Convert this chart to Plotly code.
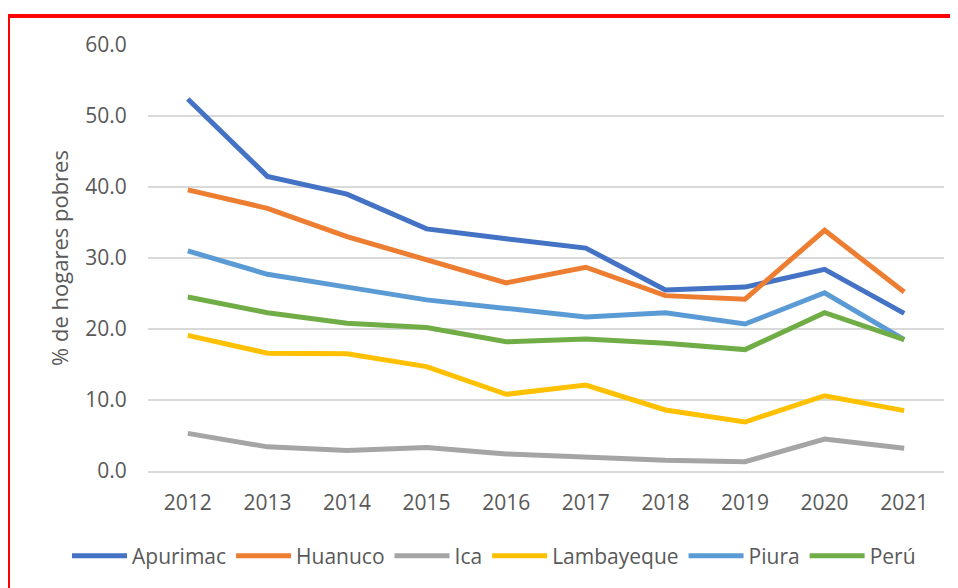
import plotly.graph_objects as go

years = ["2012", "2013", "2014", "2015", "2016", "2017", "2018", "2019", "2020", "2021"]
apurimac = [52.4, 41.5, 39.0, 34.1, 32.7, 31.4, 25.5, 25.9, 28.4, 22.2]
huanuco = [39.6, 37.0, 33.0, 29.7, 26.5, 28.7, 24.7, 24.2, 33.9, 25.2]
ica = [5.3, 3.4, 2.9, 3.3, 2.4, 1.9, 1.5, 1.3, 4.5, 3.2]
lambayeque = [19.1, 16.6, 16.5, 14.7, 10.8, 12.1, 8.6, 6.9, 10.6, 8.5]
piura = [31.0, 27.7, 25.9, 24.1, 22.9, 21.7, 22.3, 20.7, 25.1, 18.5]
peru = [24.5, 22.3, 20.8, 20.2, 18.2, 18.6, 18.0, 17.1, 22.3, 18.5]

series = [
    ("Apurimac", apurimac, "#4472C4"),
    ("Huanuco", huanuco, "#ED7D31"),
    ("Ica", ica, "#A5A5A5"),
    ("Lambayeque", lambayeque, "#FFC000"),
    ("Piura", piura, "#5B9BD5"),
    ("Perú", peru, "#70AD47"),
]

FONT = "Open Sans"
GREY = "#595959"

fig = go.Figure()
for name, vals, col in series:
    fig.add_trace(go.Scatter(
        x=years, y=vals, name=name, mode="lines",
        line=dict(color=col, width=5),
    ))

# page has an 8px body margin; figure coords = screen coords - 8
OFF = 8
W, H = 958 - OFF, 588 - OFF
L, R, T, B = 148 - OFF, 944 - OFF, 45 - OFF, 471 - OFF
def px(x):
    return (x - OFF - L) / (R - L)
def py(y):
    return (B - (y - OFF)) / (B - T)

fig.update_layout(
    width=W, height=H,
    margin=dict(l=L, r=W - R, t=T, b=H - B),
    paper_bgcolor="white", plot_bgcolor="white",
    font=dict(family=FONT, color=GREY, size=21),
    showlegend=True,
    legend=dict(
        orientation="h", x=px(67), y=py(556), xanchor="left", yanchor="middle",
        font=dict(size=21, color=GREY), itemwidth=55, tracegroupgap=0,
    ),
    xaxis=dict(
        type="category", range=[-0.5, 9.5],
        showgrid=False, showline=True, linecolor="#D9D9D9", linewidth=1.5,
        ticks="outside", ticklen=12, tickcolor="rgba(0,0,0,0)",
        tickfont=dict(size=21, color=GREY, family=FONT),
    ),
    yaxis=dict(
        range=[0, 60], dtick=10, tickformat=".1f",
        showgrid=True, gridcolor="#D9D9D9", gridwidth=1.5,
        zeroline=False,
        ticks="outside", ticklen=16, tickcolor="rgba(0,0,0,0)",
        tickfont=dict(size=21, color=GREY, family=FONT),
        title=dict(text="% de hogares pobres", standoff=10,
                   font=dict(size=22, color=GREY, family=FONT)),
    ),
    shapes=[dict(
        type="rect", xref="paper", yref="paper",
        x0=px(8), x1=px(975), y0=py(620), y1=py(16),
        line=dict(color="#FF0000", width=4), fillcolor="rgba(0,0,0,0)",
        layer="above",
    )],
)

fig.write_html("out.html")
